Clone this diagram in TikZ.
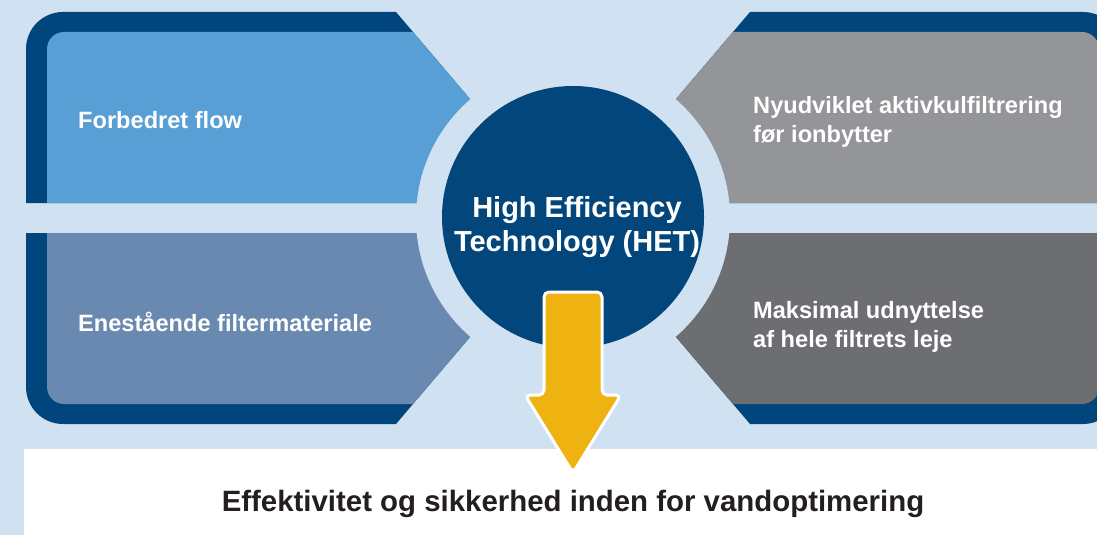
\documentclass[tikz,border=0pt]{standalone}
\usepackage{fontspec}
\setmainfont{Liberation Sans}
\definecolor{bgblue}{RGB}{208,225,241}
\definecolor{frameblue}{RGB}{0,69,124}
\definecolor{hetblue}{RGB}{2,70,124}
\definecolor{boxA}{RGB}{88,159,213}
\definecolor{boxB}{RGB}{106,137,177}
\definecolor{boxC}{RGB}{147,149,152}
\definecolor{boxD}{RGB}{109,110,114}
\definecolor{arrowgold}{RGB}{238,178,17}
\definecolor{textdark}{RGB}{35,31,32}
\tikzset{
  boxtext/.style={anchor=base west, inner sep=0pt, text=white,
    font=\fontsize{23.6}{29.5}\selectfont\bfseries},
  hettext/.style={anchor=base, inner sep=0pt, text=white,
    font=\fontsize{29}{34}\selectfont\bfseries},
  bottomtext/.style={anchor=base, inner sep=0pt, text=textdark,
    font=\fontsize{29.4}{34}\selectfont\bfseries},
  blockarrow/.style={fill=arrowgold, draw=white, line width=3pt, rounded corners=5pt, line join=round}
}
\begin{document}
\begin{tikzpicture}[x=1pt,y=-1pt]
\useasboundingbox (0,0) rectangle (1097,535);
\clip (0,0) rectangle (1097,535);
\fill[bgblue] (0,0) rectangle (1097,535);
% upper left
\fill[frameblue] (26,203) -- (26,49) arc[start angle=180,end angle=270,radius=37] -- (396,12) -- (470,99) -- (540,203) -- cycle;
\fill[boxA] (47,203) -- (47,49) arc[start angle=180,end angle=270,radius=17] -- (413,32) -- (470,99) -- (540,203) -- cycle;
% lower left
\fill[frameblue] (26,233) -- (26,387) arc[start angle=180,end angle=90,radius=37] -- (396,424) -- (470,337) -- (540,233) -- cycle;
\fill[boxB] (47,233) -- (47,387) arc[start angle=180,end angle=90,radius=17] -- (413,404) -- (470,337) -- (540,233) -- cycle;
% upper right
\fill[frameblue] (1120,203) -- (1120,49) arc[start angle=0,end angle=-90,radius=37] -- (750,12) -- (676,99) -- (606,203) -- cycle;
\fill[boxC] (1099,203) -- (1099,49) arc[start angle=0,end angle=-90,radius=17] -- (733,32) -- (676,99) -- (606,203) -- cycle;
% lower right
\fill[frameblue] (1120,233) -- (1120,387) arc[start angle=0,end angle=90,radius=37] -- (750,424) -- (676,337) -- (606,233) -- cycle;
\fill[boxD] (1099,233) -- (1099,387) arc[start angle=0,end angle=90,radius=17] -- (733,404) -- (676,337) -- (606,233) -- cycle;
% ring gap and centre circle
\fill[bgblue] (573,218) circle[radius=157];
\node[circle, fill=hetblue, minimum size=262pt, inner sep=0pt] (het) at (573,217) {};
\node[hettext] (hetlabel) at (577,217) {\begin{tabular}[t]{@{}c@{}}High Efficiency\\Technology (HET)\end{tabular}};
% box texts
\node[boxtext] (flow) at (78,128) {Forbedret flow};
\node[boxtext] (material) at (78,331) {Enestående filtermateriale};
\node[boxtext] (aktiv) at (753,113) {\begin{tabular}[t]{@{}l@{}}Nyudviklet aktivkulfiltrering\\før ionbytter\end{tabular}};
\node[boxtext] (maks) at (753,318) {\begin{tabular}[t]{@{}l@{}}Maksimal udnyttelse\\af hele filtrets leje\end{tabular}};
% bottom band
\fill[white] (24,449) rectangle (1097,535);
\node[bottomtext] (result) at (573,511) {Effektivitet og sikkerhed inden for vandoptimering};
% block arrow
\draw[blockarrow] (544,292) -- (544,395) -- (525,395) -- (573,473) -- (621,395) -- (602,395) -- (602,292) -- cycle;
\end{tikzpicture}
\end{document}
